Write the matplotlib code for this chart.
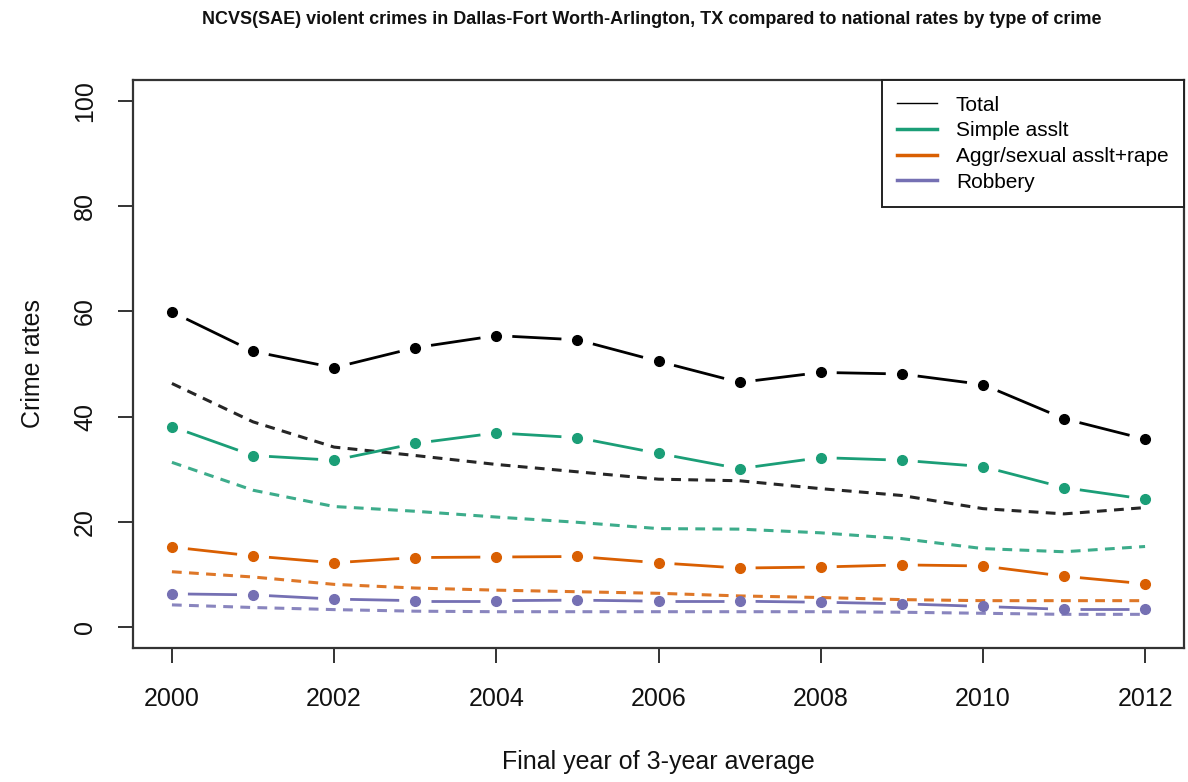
import numpy as np
import matplotlib
matplotlib.use("Agg")
import matplotlib.pyplot as plt
from matplotlib.lines import Line2D

plt.rcParams['font.family'] = ['Liberation Sans', 'DejaVu Sans']

years = [2000, 2001, 2002, 2003, 2004, 2005, 2006, 2007, 2008, 2009, 2010, 2011, 2012]

# Dallas-Fort Worth-Arlington (solid, with points)
total_local = [59.9, 52.4, 49.3, 53.1, 55.4, 54.6, 50.5, 46.5, 48.4, 48.1, 46.1, 39.6, 35.7]
simple_local = [38.1, 32.6, 31.7, 34.9, 36.9, 36.0, 33.0, 30.1, 32.2, 31.7, 30.5, 26.5, 24.3]
aggr_local = [15.2, 13.5, 12.2, 13.2, 13.3, 13.4, 12.2, 11.2, 11.4, 11.8, 11.6, 9.65, 8.2]
robbery_local = [6.3, 6.1, 5.3, 5.0, 5.0, 5.1, 4.9, 4.9, 4.7, 4.4, 3.9, 3.35, 3.35]

# national rates (dashed)
total_nat = [46.3, 39.0, 34.2, 32.6, 30.9, 29.5, 28.1, 27.8, 26.3, 25.0, 22.5, 21.5, 22.7]
simple_nat = [31.3, 26.0, 22.9, 22.0, 20.9, 19.9, 18.7, 18.6, 17.9, 16.8, 14.9, 14.3, 15.3]
aggr_nat = [10.5, 9.5, 8.1, 7.4, 7.0, 6.7, 6.4, 5.9, 5.6, 5.2, 5.0, 5.0, 5.0]
robbery_nat = [4.2, 3.7, 3.3, 3.0, 2.9, 2.9, 2.9, 2.9, 2.9, 2.8, 2.6, 2.4, 2.4]

labels = ['Total', 'Simple asslt', 'Aggr/sexual asslt+rape', 'Robbery']
colors = ['black', '#1B9E77', '#D95F02', '#7570B3']

fig = plt.figure(figsize=(11.88, 7.82), dpi=100)
W, H = 1188, 782
ax = fig.add_axes([133 / W, 1 - 648 / H, (1184 - 133) / W, (648 - 80) / H])
ax.set_xlim(2000 - 0.48, 2012 + 0.48)
ax.set_ylim(-4, 104)


def gapped(x, y, color, lw, gap=16):
    # R type="b": segments stop short of each point
    pts = ax.transData.transform(np.column_stack([x, y]))
    inv = ax.transData.inverted()
    for p0, p1 in zip(pts[:-1], pts[1:]):
        d = p1 - p0
        u = d / np.hypot(*d)
        a = inv.transform(p0 + u * gap)
        b = inv.transform(p1 - u * gap)
        ax.plot([a[0], b[0]], [a[1], b[1]], color=color, lw=lw, solid_capstyle='butt')


locals_ = [total_local, simple_local, aggr_local, robbery_local]
nats = [total_nat, simple_nat, aggr_nat, robbery_nat]

for loc, nat, c in zip(locals_, nats, colors):
    ax.plot(years, nat, color=c, lw=2.2, dashes=(3.2, 2.4), alpha=0.85)
    gapped(years, loc, c, 2.0)
    ax.plot(years, loc, 'o', color=c, ms=7, mec=c, zorder=3)

for s in ax.spines.values():
    s.set_linewidth(1.6)
    s.set_color('#333333')

ax.set_xticks([2000, 2002, 2004, 2006, 2008, 2010, 2012])
ax.set_yticks([0, 20, 40, 60, 80, 100])
ax.tick_params(axis='both', length=11, width=1.4, color='#333333', labelsize=18, colors='#111111')
ax.tick_params(axis='x', pad=17)
ax.tick_params(axis='y', pad=15)
for t in ax.get_yticklabels():
    t.set_rotation(90)
    t.set_va('center')

fig.text(658 / W, 1 - 762 / H, 'Final year of 3-year average', ha='center', va='center',
         fontsize=18, color='#111111')
fig.text(33 / W, 1 - 364 / H, 'Crime rates', ha='center', va='center', rotation=90,
         fontsize=18, color='#111111')
fig.text(652 / W, 1 - 20 / H, 'NCVS(SAE) violent crimes in Dallas-Fort Worth-Arlington, TX compared to national rates by type of crime',
         ha='center', va='center', fontsize=13, fontweight='bold', color='#111111')

handles = [Line2D([], [], color=colors[0], lw=1.0)] + \
          [Line2D([], [], color=c, lw=2.5) for c in colors[1:]]
leg = ax.legend(handles, labels, loc='upper right', borderaxespad=0, fontsize=15,
                frameon=True, fancybox=False, edgecolor='#222222', framealpha=1,
                handlelength=1.9, handletextpad=0.9, labelspacing=0.32, borderpad=0.75)
leg.get_frame().set_linewidth(1.4)

fig.savefig('out.png', dpi=100)
